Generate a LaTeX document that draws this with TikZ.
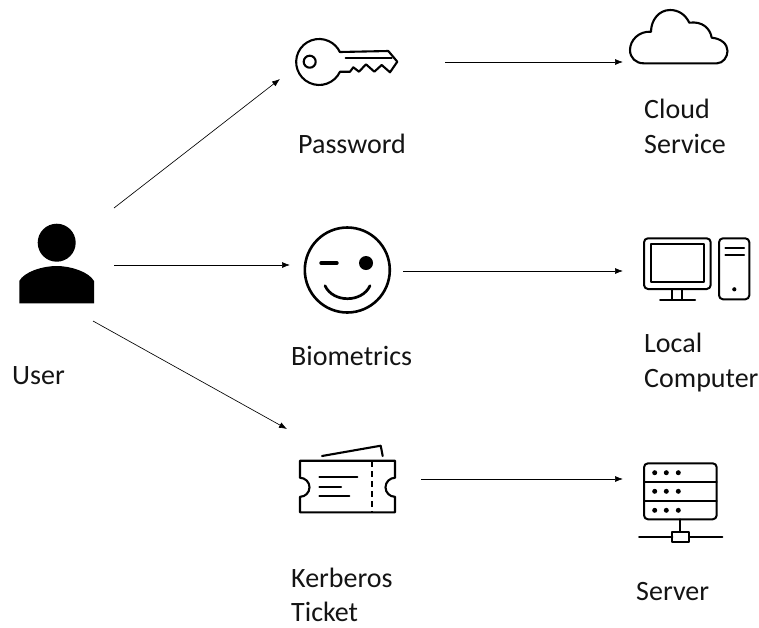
\documentclass[tikz,border=0pt]{standalone}
\usepackage{fontspec}
\setmainfont{Carlito}
\usetikzlibrary{arrows.meta}
\tikzset{
  flow/.style={draw=black,line width=0.65pt,-{Latex[length=8pt,width=6pt]}},
  icon/.style={draw=black,line width=2.1pt,line join=round,line cap=round},
  iconthin/.style={icon,line width=2pt},
  lab/.style={inner sep=0pt,anchor=base west,font=\fontsize{28}{35.5}\selectfont,text=black!92},
  lab2/.style={inner sep=0pt,anchor=north west,align=left,font=\fontsize{28}{35.5}\selectfont,text=black!92}
}
\begin{document}
\begin{tikzpicture}[x=1pt,y=-1pt]
\useasboundingbox (0,0) rectangle (759,627);
% anchors for connectors
\coordinate (userA) at (114,208);
\coordinate (userB) at (114,265);
\coordinate (userC) at (93,321);
\coordinate (keyIn) at (280,79);
\coordinate (faceIn) at (290,265);
\coordinate (ticketIn) at (287,429);
\coordinate (keyOut) at (445,62);
\coordinate (faceOut) at (403,271);
\coordinate (ticketOut) at (421,479);
\coordinate (cloudIn) at (623,62);
\coordinate (pcIn) at (623,271);
\coordinate (serverIn) at (623,479);
\draw[flow] (userA) -- (keyIn);
\draw[flow] (userB) -- (faceIn);
\draw[flow] (userC) -- (ticketIn);
\draw[flow] (keyOut) -- (cloudIn);
\draw[flow] (faceOut) -- (pcIn);
\draw[flow] (ticketOut) -- (serverIn);
% user
\fill[black] (56.7,242.7) circle (19);
\fill[black] (19.3,303.3) -- (19.3,281) .. controls (24,272) and (42,266) .. (56.7,266) .. controls (71,266) and (89,272) .. (94,281) -- (94,303.3) -- cycle;
% key
\draw[icon] (340,52) -- (388.3,51) -- (397.3,61.7) -- (390,72.3) -- (381.7,65) -- (374.3,71.7) -- (366,64.3) -- (359,71.7) -- (353.3,67.3) -- (350,71.7) -- (340,71.7) arc[start angle=25,end angle=335,radius=23];
\draw[icon] (309.7,61.7) circle (6);
\draw[icon] (345.7,58.3) -- (391.7,58.3);
% face
\draw[icon,line width=2.6pt] (347.3,270) circle (42.5);
\draw[icon,line width=3.4pt] (321,263) -- (337,263);
\fill[black] (366,263) circle (7);
\draw[icon,line width=2.7pt] (325,285.7) .. controls (333,303) and (362,303) .. (370,285.7);
% ticket
\draw[icon,line cap=butt] (300,460.7) -- (395,460.7) -- (395,477.8) arc[start angle=270,end angle=90,radius=9.5] -- (395,512.3) -- (300,512.3) -- (300,496.8) arc[start angle=90,end angle=-90,radius=9.5] -- cycle;
\draw[icon,line cap=butt,dash pattern=on 6pt off 4pt] (371.7,461) -- (371.7,512);
\draw[icon] (319.3,477.3) -- (357.3,477.3);
\draw[icon] (319.3,486.7) -- (341,486.7);
\draw[icon] (319.3,496) -- (349.3,496);
\draw[icon] (322,456) -- (380.7,445.7) -- (382.7,456);
% cloud
\draw[icon] (643.5,63.3) -- (717,63.3) .. controls (723,63.3) and (727.5,57) .. (727.5,51) .. controls (727.5,44) and (721,38.5) .. (711.7,37.7)
  .. controls (710,28) and (702,21) .. (689.3,22.7) .. controls (685,14) and (678,10) .. (670,10) .. controls (659,10) and (651,20) .. (651,31.7)
  .. controls (639,31) and (630,40) .. (630,50) .. controls (630,58) and (636,63.3) .. (643.5,63.3) -- cycle;
% computer
\draw[iconthin,rounded corners=4pt] (644,238.3) rectangle (710.7,289);
\draw[iconthin] (650.7,244) rectangle (704,282.3);
\draw[iconthin] (672.3,289) -- (672.3,299.5) (682.3,289) -- (682.3,299.5) (660,299.5) -- (695,299.5);
\draw[iconthin,rounded corners=4pt] (719,238.3) rectangle (749.3,299.3);
\draw[iconthin] (725.3,247.7) -- (744,247.7) (725.3,255) -- (744,255);
\fill[black] (734.3,289.3) circle (2.1);
% server
\draw[iconthin,rounded corners=4pt] (644,463.3) rectangle (716.7,519.3);
\draw[iconthin] (644,481.7) -- (716.7,481.7) (644,500.7) -- (716.7,500.7);
\foreach \yy in {472.7,491.3,510.3}{\foreach \xx in {654.7,666.3,678.3}{\fill[black] (\xx,\yy) circle (2.5);}}
\draw[iconthin] (680.3,519.3) -- (680.3,531.7);
\draw[iconthin] (639,537) -- (672.3,537) (689.3,537) -- (722.3,537);
\draw[iconthin] (672.3,531.7) rectangle (689.3,541.7);
% labels
\node[lab] (lUser) at (12,384) {User};
\node[lab] (lPass) at (298,153) {Password};
\node[lab] (lBio) at (291,365) {Biometrics};
\node[lab2,font=\fontsize{28}{33.5}\selectfont] (lKerb) at (291,568) {Kerberos\\Ticket};
\node[lab2] (lCloud) at (644,98.5) {Cloud\\Service};
\node[lab2] (lLocal) at (644,332.5) {Local\\Computer};
\node[lab] (lServer) at (636,600) {Server};
\end{tikzpicture}
\end{document}
